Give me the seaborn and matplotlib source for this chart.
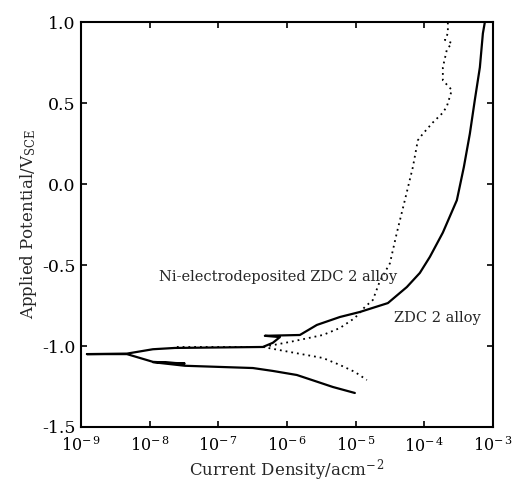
import numpy as np
import pandas as pd
import matplotlib
matplotlib.use("Agg")
import matplotlib.pyplot as plt
import seaborn as sns

# Polarization data: log10 of current density (A/cm^2) and applied potential (V vs SCE)

# ZDC 2 alloy: cathodic branch (high -> low current) followed by anodic branch
zdc_log_i = [-5.012, -5.332, -5.565, -5.856, -6.205, -6.496, -7.486, -7.95, -7.49, -7.95,
             -8.330, -8.913,
             -8.330, -7.952, -7.632, -6.351, -6.205, -6.103, -6.322, -5.812, -5.565,
             -5.230, -4.939, -4.531, -4.255, -4.066, -3.920, -3.731, -3.527, -3.425,
             -3.338, -3.265, -3.192, -3.148, -3.119]
zdc_E = [-1.29, -1.253, -1.22, -1.179, -1.154, -1.136, -1.122, -1.100, -1.108, -1.098,
         -1.05, -1.05,
         -1.047, -1.02, -1.012, -1.006, -0.98, -0.945, -0.937, -0.932, -0.870,
         -0.821, -0.790, -0.735, -0.636, -0.549, -0.45, -0.30, -0.10, 0.105,
         0.31, 0.52, 0.72, 0.93, 1.0]

# Ni-electrodeposited ZDC 2 alloy: anodic branch (including low-current plateau)
ni_anodic_log_i = [-7.603, -6.351, -5.958, -5.477, -5.230, -5.012, -4.866, -4.750, -4.648,
                   -4.502, -4.400, -4.284, -4.167, -4.095, -4.022, -3.876, -3.731, -3.672,
                   -3.600, -3.687, -3.731, -3.731, -3.672, -3.600, -3.702, -3.658, -3.658]
ni_anodic_E = [-1.006, -1.006, -0.975, -0.932, -0.889, -0.827, -0.759, -0.716, -0.60,
               -0.49, -0.30, -0.10, 0.105, 0.27, 0.31, 0.38, 0.44, 0.48,
               0.58, 0.62, 0.64, 0.72, 0.83, 0.87, 0.89, 0.93, 1.0]

# Ni-electrodeposited ZDC 2 alloy: cathodic branch
ni_cathodic_log_i = [-6.351, -5.958, -5.477, -5.230, -5.012, -4.837]
ni_cathodic_E = [-1.006, -1.037, -1.074, -1.117, -1.16, -1.21]

x_ticks = [1e-9, 1e-8, 1e-7, 1e-6, 1e-5, 1e-4, 1e-3]
x_tick_labels = [r"$10^{-\,9}$", r"$10^{-\,8}$", r"$10^{-\,7}$", r"$10^{-\,6}$",
                 r"$10^{-\,5}$", r"$10^{-\,4}$", r"$10^{-\,3}$"]
y_ticks = [-1.5, -1.0, -0.5, 0.0, 0.5, 1.0]
y_tick_labels = ["-1.5", "-1.0", "-0.5", "0.0", "0.5", "1.0"]

sns.set_style("ticks")
plt.rcParams["font.family"] = ["DejaVu Serif"]
plt.rcParams["mathtext.fontset"] = "dejavuserif"

fig = plt.figure(figsize=(5.12, 4.86), dpi=100)
ax = fig.add_axes([0.158, 0.1214, 0.805, 0.8333])


def frame(log_i, E, seg):
    return pd.DataFrame({"i": 10.0 ** np.asarray(log_i), "E": E, "seg": seg})


zdc = frame(zdc_log_i, zdc_E, "zdc")
ni_a = frame(ni_anodic_log_i, ni_anodic_E, "ni_a")
ni_c = frame(ni_cathodic_log_i, ni_cathodic_E, "ni_c")

sns.lineplot(data=zdc, x="i", y="E", sort=False, estimator=None, color="black",
             linewidth=1.6, ax=ax)
for d in (ni_a, ni_c):
    sns.lineplot(data=d, x="i", y="E", sort=False, estimator=None, color="black",
                 linewidth=1.3, linestyle=(0, (1, 2.2)), ax=ax)

ax.set_xscale("log")
ax.set_xlim(1e-9, 1e-3)
ax.set_ylim(-1.5, 1.0)
ax.set_xticks(x_ticks)
ax.set_xticklabels(x_tick_labels)
ax.xaxis.set_minor_locator(matplotlib.ticker.NullLocator())
ax.set_yticks(y_ticks)
ax.set_yticklabels(y_tick_labels)

ax.tick_params(direction="in", length=4, width=1.2, top=True, right=True,
               colors="black")
ax.tick_params(axis="y", pad=4, labelsize=12.5)
ax.tick_params(axis="x", pad=7, labelsize=11.5)
for s in ax.spines.values():
    s.set_linewidth(1.5)
    s.set_color("black")

ax.set_xlabel(r"Current Density/acm$^{-\,2}$", fontsize=12, labelpad=1)
ax.set_ylabel(r"Applied Potential/V$_{\mathrm{SCE}}$", fontsize=12, labelpad=2)

ax.text(10 ** -7.87, -0.574, "Ni-electrodeposited ZDC 2 alloy", fontsize=10.5,
        va="center", ha="left")
ax.text(10 ** -4.44, -0.83, "ZDC 2 alloy", fontsize=10.5, va="center", ha="left")

fig.savefig("out.png", dpi=100)
